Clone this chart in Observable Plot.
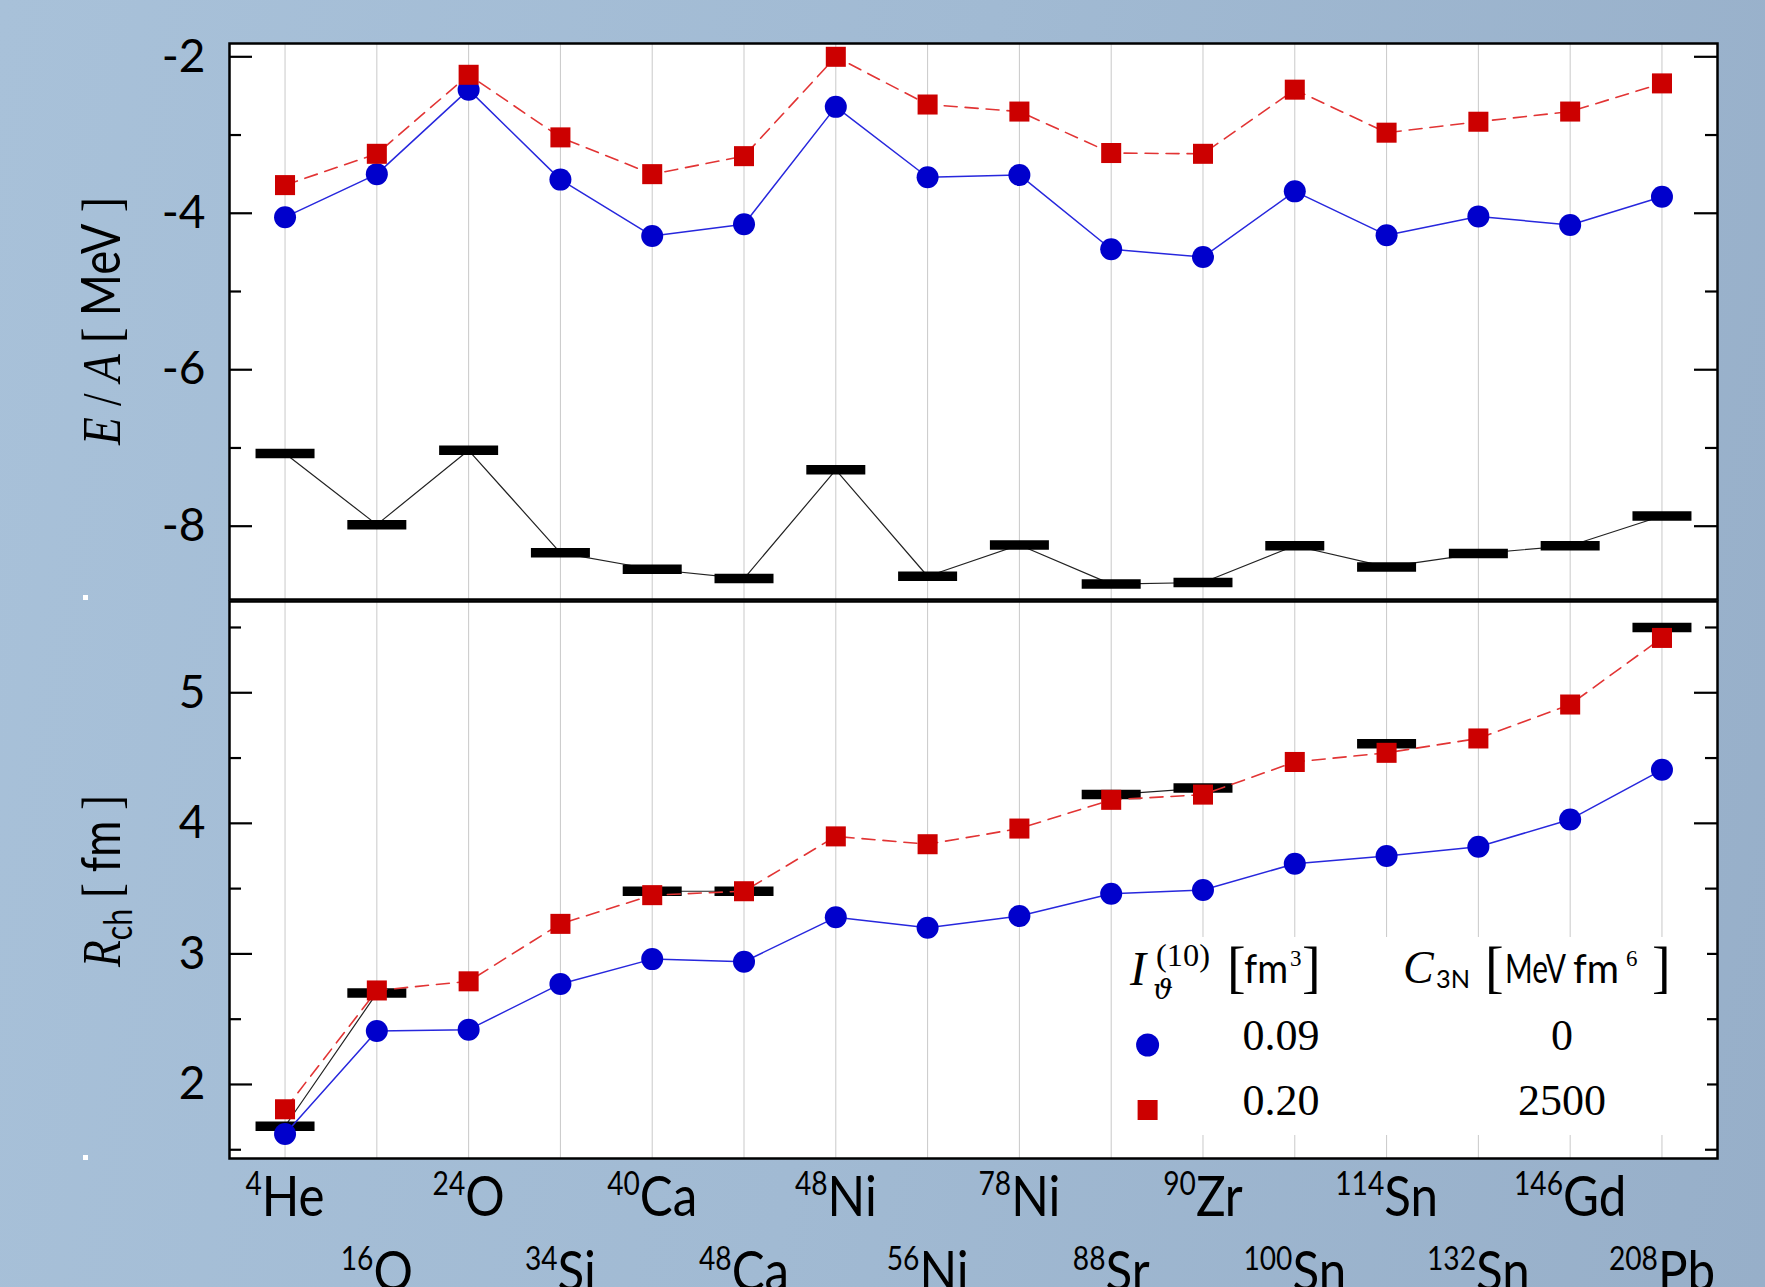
<!DOCTYPE html>
<html><head><meta charset="utf-8">
<script src="https://cdn.jsdelivr.net/npm/d3@7"></script>
<script src="https://cdn.jsdelivr.net/npm/@observablehq/plot@0.6"></script>
<style>
html,body{margin:0;padding:0;}
#wrap{position:relative;width:1765px;height:1287px;overflow:hidden;
 background:linear-gradient(100deg,#a8c1d9 0%,#a1bad3 50%,#97afc9 100%);}
#wrap svg{position:absolute;left:0;}
</style></head><body><div id="wrap"></div>
<script>
// ---- data ----
const nuclides = ["4He","16O","24O","34Si","40Ca","48Ca","48Ni","56Ni","78Ni","88Sr","90Zr","100Sn","114Sn","132Sn","146Gd","208Pb"];
// E/A [MeV]
const eaBlue = [-4.05,-3.50,-2.42,-3.57,-4.29,-4.14,-2.64,-3.54,-3.51,-4.46,-4.56,-3.72,-4.28,-4.04,-4.15,-3.79];
const eaRed  = [-3.64,-3.24,-2.23,-3.03,-3.50,-3.27,-2.00,-2.61,-2.70,-3.23,-3.24,-2.42,-2.97,-2.83,-2.70,-2.34];
const eaExp  = [-7.07,-7.98,-7.03,-8.34,-8.55,-8.67,-7.28,-8.64,-8.24,-8.74,-8.72,-8.25,-8.52,-8.35,-8.25,-7.87];
// R_ch [fm]
const rBlue = [1.62,2.41,2.42,2.77,2.96,2.94,3.28,3.20,3.29,3.46,3.49,3.69,3.75,3.82,4.03,4.41];
const rRed  = [1.81,2.72,2.79,3.23,3.45,3.48,3.90,3.84,3.96,4.18,4.22,4.47,4.54,4.65,4.91,5.42];
const rExp  = [1.68,2.70,null,null,3.48,3.48,null,null,null,4.22,4.27,null,4.61,null,null,5.50];
// ticks
const eaTicks = [-2,-4,-6,-8];
const eaMinor = [-3,-5,-7];
const rTicks = [2,3,4,5];
const rMinor = [1.5,2.5,3.5,4.5,5.5];
// legend
const legendIT = ["0.09","0.20"];
const legendC3N = ["0","2500"];

const eaRows = nuclides.map((n,i)=>({n, blue: eaBlue[i], red: eaRed[i], exp: eaExp[i]}));
const rRows  = nuclides.map((n,i)=>({n, blue: rBlue[i], red: rRed[i], exp: rExp[i]}));

const W = 1765, mL = 229, mR = 48, PW = W - mL - mR;
const serif = "Liberation Serif, DejaVu Serif, serif";
const barSymbol = {draw(ctx){ ctx.moveTo(-29.5,-4.75); ctx.lineTo(29.5,-4.75); ctx.lineTo(29.5,4.75); ctx.lineTo(-29.5,4.75); ctx.closePath(); }};
const style = {fontFamily: "Lato", fontSize: "46px", background: "transparent", overflow: "visible", color: "black"};
const xOpts = {type: "point", domain: nuclides, padding: 0.605, round: false, axis: null};

function panelMarks(rows, ticks, minor) {
  return [
    Plot.frame({fill: "white"}),
    Plot.ruleX(nuclides, {stroke: "#c9c9c9", strokeWidth: 1}),
    Plot.tickY(ticks, {y: d=>d, insetRight: PW-23, stroke: "black", strokeWidth: 2.2}),
    Plot.tickY(ticks, {y: d=>d, insetLeft: PW-23, stroke: "black", strokeWidth: 2.2}),
    Plot.tickY(minor, {y: d=>d, insetRight: PW-12, stroke: "black", strokeWidth: 2.2}),
    Plot.tickY(minor, {y: d=>d, insetLeft: PW-12, stroke: "black", strokeWidth: 2.2}),
    Plot.line(rows, {x: "n", y: "exp", stroke: "#222", strokeWidth: 1.2}),
    Plot.dot(rows, {x: "n", y: "exp", symbol: barSymbol, r: 1, fill: "black"}),
    Plot.line(rows, {x: "n", y: "blue", stroke: "#2727dd", strokeWidth: 1.5}),
    Plot.dot(rows, {x: "n", y: "blue", r: 11, fill: "#0000cc"}),
    Plot.line(rows, {x: "n", y: "red", stroke: "#e23434", strokeWidth: 1.6, strokeDasharray: "13,8"}),
    Plot.dot(rows, {x: "n", y: "red", symbol: "square", r: 11.3, fill: "#cc0000"}),
    Plot.axisY({ticks, tickSize: 0, tickPadding: 24, tickFormat: d=>String(d), label: null, fontSize: 46}),
  ];
}

const topPlot = Plot.plot({
  width: W, height: 601, marginLeft: mL, marginRight: mR, marginTop: 43, marginBottom: 2,
  x: xOpts,
  y: {domain: [-8.937, -1.83]},
  style,
  marks: [...panelMarks(eaRows, eaTicks, eaMinor), Plot.frame({stroke: "black", strokeWidth: 2.5})]
});

const even = nuclides.filter((d,i)=>i%2===0), odd = nuclides.filter((d,i)=>i%2===1);
const botPlot = Plot.plot({
  width: W, height: 688, marginLeft: mL, marginRight: mR, marginTop: 2, marginBottom: 129,
  x: xOpts,
  y: {domain: [1.433, 5.699]},
  style,
  marks: [
    ...panelMarks(rRows, rTicks, rMinor),
    Plot.frame({stroke: "black", strokeWidth: 2.5}),
    Plot.text(even, {x: d=>d, text: d=>d, frameAnchor: "bottom", dy: 57, lineAnchor: "bottom", fontSize: 56}),
    Plot.text(odd,  {x: d=>d, text: d=>d, frameAnchor: "bottom", dy: 132, lineAnchor: "bottom", fontSize: 56}),
  ]
});

const wrap = document.getElementById("wrap");
topPlot.style.top = "0px"; botPlot.style.top = "599px";
wrap.append(topPlot, botPlot);

// superscript mass numbers in x labels
const NS = "http://www.w3.org/2000/svg";
botPlot.querySelectorAll("text").forEach(el => {
  const m = el.textContent.match(/^(\d+)([A-Za-z]+)$/);
  if (!m) return;
  el.textContent = "";
  const a = document.createElementNS(NS, "tspan");
  a.setAttribute("font-size", "32"); a.setAttribute("dy", "-21"); a.textContent = m[1];
  const b = document.createElementNS(NS, "tspan");
  b.setAttribute("dy", "21"); b.textContent = m[2];
  el.append(a, b);
  const w = el.getComputedTextLength();
  el.setAttribute("textLength", (w*0.88).toFixed(1));
  el.setAttribute("lengthAdjust", "spacingAndGlyphs");
});

// ---- overlay: axis titles, legend ----
const ov = d3.create("svg").attr("width", W).attr("height", 1287)
  .style("position","absolute").style("left","0").style("top","0");
function txt(g, s, x, y, o={}) {
  const t = g.append("text").attr("x", x).attr("y", y).text(s)
    .attr("font-family", o.f || "Lato").attr("font-size", o.s || 46)
    .attr("text-anchor", o.a || "start").attr("fill", "black");
  if (o.i) t.attr("font-style", "italic");
  if (o.w) t.attr("textLength", o.w).attr("lengthAdjust", "spacingAndGlyphs");
  return t;
}
// y titles
{
  const t = ov.append("text").attr("transform","translate(120,321) rotate(-90)")
    .attr("text-anchor","middle").attr("font-size",55).attr("fill","black")
    .attr("textLength",248).attr("lengthAdjust","spacingAndGlyphs");
  t.append("tspan").attr("font-family",serif).attr("font-style","italic").text("E");
  t.append("tspan").attr("font-family",serif).text(" / ");
  t.append("tspan").attr("font-family",serif).attr("font-style","italic").text("A");
  t.append("tspan").attr("font-family",serif).text(" [ ");
  t.append("tspan").attr("font-family","Lato").text("MeV");
  t.append("tspan").attr("font-family",serif).text(" ]");
}
{
  const t = ov.append("text").attr("transform","translate(120,881) rotate(-90)")
    .attr("text-anchor","middle").attr("font-size",55).attr("fill","black")
    .attr("textLength",172).attr("lengthAdjust","spacingAndGlyphs");
  t.append("tspan").attr("font-family",serif).attr("font-style","italic").text("R");
  t.append("tspan").attr("font-family","Lato").attr("font-size",38).attr("dy",12).text("ch");
  t.append("tspan").attr("font-family",serif).attr("dy",-12).text(" [ ");
  t.append("tspan").attr("font-family","Lato").text("fm");
  t.append("tspan").attr("font-family",serif).text(" ]");
}
// small white marks on the left
ov.append("rect").attr("x",83).attr("y",595).attr("width",5).attr("height",5).attr("fill","white");
ov.append("rect").attr("x",83).attr("y",1155).attr("width",5).attr("height",5).attr("fill","white");
// legend
ov.append("rect").attr("x",1120).attr("y",937).attr("width",587).attr("height",198).attr("fill","white");
txt(ov, "I", 1130, 985, {f: serif, s: 48, i: true});
txt(ov, "(10)", 1156, 966, {f: serif, s: 31, w: 54});
txt(ov, "\u03D1", 1153, 999, {f: "DejaVu Serif", s: 28, i: true});
txt(ov, "[", 1227, 986, {f: serif, s: 56});
txt(ov, "fm", 1244, 983, {s: 41, w: 44});
txt(ov, "3", 1290, 966, {f: serif, s: 23});
txt(ov, "]", 1302, 986, {f: serif, s: 56});
txt(ov, "C", 1403, 983, {f: serif, s: 46, i: true});
txt(ov, "3N", 1436, 988, {s: 25, w: 34});
txt(ov, "[", 1485, 986, {f: serif, s: 56});
txt(ov, "MeV", 1505, 983, {s: 41, w: 61});
txt(ov, "fm", 1573, 983, {s: 41, w: 46});
txt(ov, "6", 1626, 966, {f: serif, s: 23});
txt(ov, "]", 1652, 986, {f: serif, s: 56});
ov.append("circle").attr("cx",1147.6).attr("cy",1045).attr("r",11.5).attr("fill","#0000cc");
ov.append("rect").attr("x",1137.6).attr("y",1100).attr("width",20).attr("height",20).attr("fill","#cc0000");
[1050, 1115].forEach((y,i) => {
  txt(ov, legendIT[i], 1281, y, {f: serif, s: 44, a: "middle"});
  txt(ov, legendC3N[i], 1562, y, {f: serif, s: 44, a: "middle"});
});
wrap.append(ov.node());
</script></body></html>
